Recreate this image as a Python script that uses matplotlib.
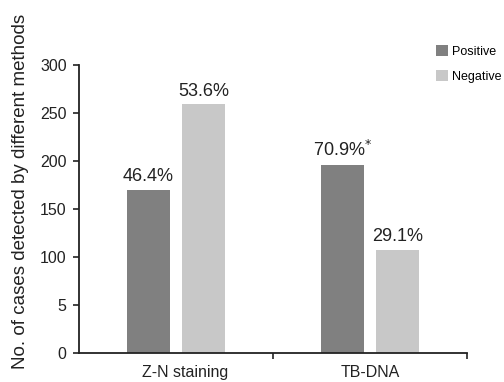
import matplotlib.pyplot as plt
import matplotlib.transforms as mtransforms
import numpy as np

plt.rcParams['font.family'] = ['Liberation Sans', 'DejaVu Sans']

# data
categories = ['Z-N staining', 'TB-DNA']
positive = [170, 196]
negative = [259, 107]
pos_labels = ['46.4%', '70.9%$^{*}$']
neg_labels = ['53.6%', '29.1%']
y_ticks = [0, 50, 100, 150, 200, 250, 300]
y_tick_labels = ['0', '5', '100', '150', '200', '250', '300']

dark = '#808080'
light = '#c8c8c8'
axis_col = '#222222'
text_col = '#222222'

fig = plt.figure(figsize=(5.04, 3.82), dpi=100)
ax = fig.add_axes([0.157, 0.0767, 0.77, 0.753])

x = np.arange(len(categories))
width = 0.22
offset = 0.142

b1 = ax.bar(x - offset, positive, width, color=dark, label='Positive')
b2 = ax.bar(x + offset, negative, width, color=light, label='Negative')

# percentage labels above bars
for bars, labels in [(b1, pos_labels), (b2, neg_labels)]:
    for bar, lab in zip(bars, labels):
        ax.text(bar.get_x() + bar.get_width() / 2, bar.get_height() + 5, lab,
                ha='center', va='bottom', fontsize=13, color=text_col)

ax.set_xlim(-0.5, 1.5)
ax.set_ylim(0, 300)
ax.set_yticks(y_ticks)
ax.set_yticklabels(y_tick_labels, fontsize=11.5, color=text_col)
ax.set_xticks(x)
ax.set_xticklabels(categories, fontsize=11.5, color=text_col)
ax.tick_params(axis='x', length=0, pad=9)
ax.set_xticks([0.5, 1.5], minor=True)
ax.tick_params(axis='x', which='minor', length=4, width=1.2, color=axis_col)
ax.tick_params(axis='y', length=4, width=1.2, color=axis_col, pad=5)

# first category label sits a little right of its group in the original
lab0 = ax.get_xticklabels()[0]
lab0.set_transform(lab0.get_transform() +
                   mtransforms.ScaledTranslation(8.5 / 100, 0, fig.dpi_scale_trans))

for side in ['top', 'right']:
    ax.spines[side].set_visible(False)
for side in ['left', 'bottom']:
    ax.spines[side].set_linewidth(1.3)
    ax.spines[side].set_color(axis_col)

fig.text(0.04, 0.5, 'No. of cases detected by different methods', fontsize=13.5,
         color=text_col, rotation=90, ha='center', va='center')

fig.legend(handles=[b1, b2], loc='upper left', bbox_to_anchor=(0.865, 0.882),
           frameon=False, fontsize=9, handlelength=0.95, handleheight=0.95,
           handletextpad=0.3, labelspacing=1.0, borderpad=0, borderaxespad=0)

fig.savefig('out.png', dpi=100)
